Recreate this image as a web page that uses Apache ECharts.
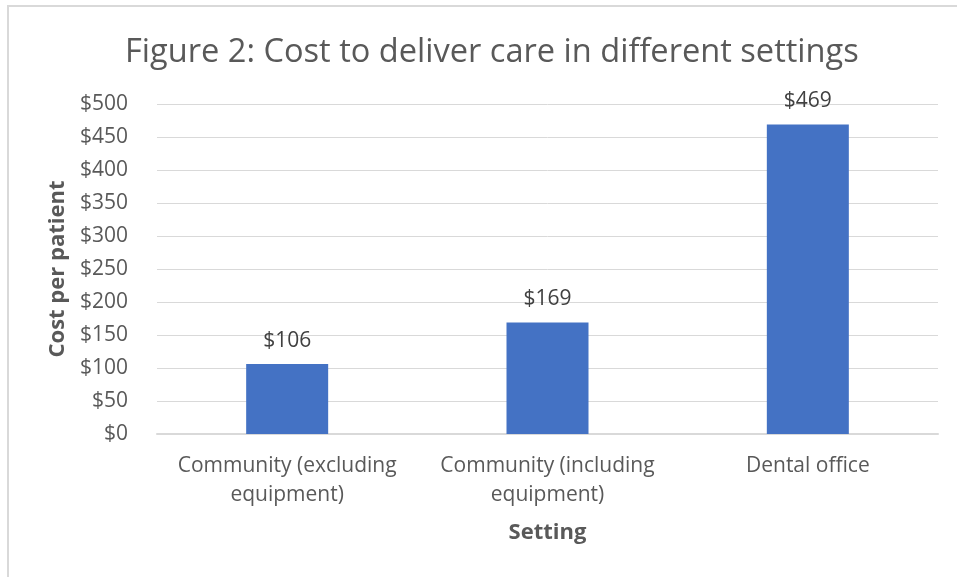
<!DOCTYPE html>
<html>
<head>
<meta charset="utf-8">
<script src="https://cdn.jsdelivr.net/npm/echarts@6/dist/echarts.min.js"></script>
<style>
html,body{margin:0;padding:0;background:#fff;}
#frame{position:absolute;left:7px;top:5px;width:960px;height:600px;border:2px solid #d9d9d9;box-sizing:border-box;}
#chart{position:absolute;left:0;top:0;width:957px;height:577px;}
</style>
</head>
<body>
<div id="frame"></div>
<div id="chart"></div>
<script>
const titleText = 'Figure 2: Cost to deliver care in different settings';
const categories = ['Community (excluding\nequipment)', 'Community (including\nequipment)', 'Dental office'];
const costValues = [106, 169, 469];
const yAxisTitle = 'Cost per patient';
const xAxisTitle = 'Setting';

const FONT = '"Open Sans", sans-serif';
const chart = echarts.init(document.getElementById('chart'), null, {renderer: 'canvas'});
chart.setOption({
  backgroundColor: 'transparent',
  animation: false,
  title: {
    text: titleText,
    left: 120,
    top: 31,
    textStyle: {fontFamily: FONT, fontSize: 32.6, fontWeight: 'normal', color: '#595959'}
  },
  grid: {left: 157, right: 19, top: 104, bottom: 143},
  xAxis: {
    type: 'category',
    data: categories,
    name: xAxisTitle,
    nameLocation: 'middle',
    nameGap: 88,
    nameTextStyle: {fontFamily: FONT, fontSize: 22, fontWeight: 'bold', color: '#595959'},
    axisLine: {lineStyle: {color: '#d9d9d9', width: 2}},
    axisTick: {show: false},
    axisLabel: {fontFamily: FONT, fontSize: 21, color: '#595959', margin: 18, lineHeight: 29, interval: 0}
  },
  yAxis: {
    type: 'value',
    min: 0,
    max: 500,
    interval: 50,
    name: yAxisTitle,
    nameLocation: 'middle',
    nameGap: 86,
    nameTextStyle: {fontFamily: FONT, fontSize: 22, fontWeight: 'bold', color: '#595959'},
    axisLine: {show: false},
    axisTick: {show: false},
    splitLine: {lineStyle: {color: '#d9d9d9', width: 1}},
    axisLabel: {fontFamily: FONT, fontSize: 21, color: '#595959', margin: 29, formatter: v => '$' + v}
  },
  series: [{
    type: 'bar',
    data: costValues,
    barWidth: '31.5%',
    itemStyle: {color: '#4472c4'},
    label: {
      show: true,
      position: 'top',
      distance: 13,
      fontFamily: FONT,
      fontSize: 21,
      color: '#404040',
      formatter: p => '$' + p.value
    }
  }]
});
</script>
</body>
</html>
